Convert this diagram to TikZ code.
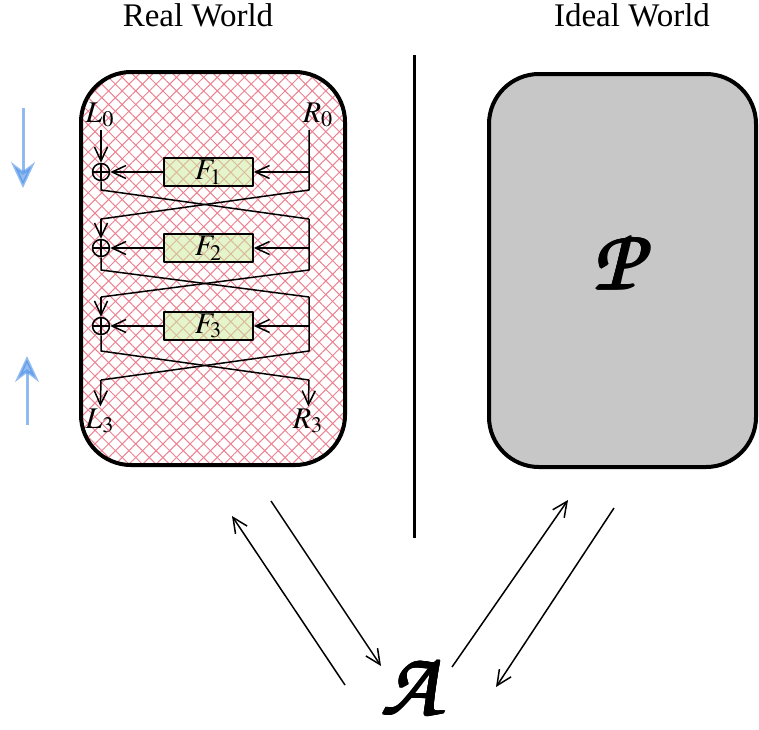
\documentclass[tikz,border=0pt]{standalone}
\usepackage{mathptmx}
\usepackage{fontspec}
\setmainfont{Liberation Serif}
\usepackage{tikz}
\usetikzlibrary{arrows.meta}
\usetikzlibrary{patterns.meta}
\usetikzlibrary{calc}

\definecolor{hatch}{RGB}{236,130,145}
\definecolor{boxgreen}{RGB}{205,235,160}
\definecolor{worldgray}{RGB}{199,199,199}
\definecolor{arrowblue}{RGB}{70,140,230}
\newcommand\chancery{\usefont{OT1}{pzc}{mb}{it}}

\begin{document}
\begin{tikzpicture}[x=0.5pt,y=-0.5pt,line join=round,
  flow/.style={line width=0.75pt},
  tip/.style={-{Straight Barb[length=7pt,width=6.5pt]}},
  xor/.style={circle,draw,line width=0.75pt,minimum size=8.5pt,inner sep=0pt,
    path picture={\draw[line width=0.75pt] (path picture bounding box.north) -- (path picture bounding box.south)
      (path picture bounding box.west) -- (path picture bounding box.east);}},
  fbox/.style={draw,line width=0.75pt,fill=boxgreen,fill opacity=0.55,text opacity=1,
    minimum width=44.5pt,minimum height=13pt,inner sep=0pt},
  label/.style={font=\fontsize{15}{17}\selectfont,inner sep=1pt},
  world/.style={font=\fontsize{16.5}{19}\selectfont},
  cal/.style={font=\chancery\fontsize{#1}{#1}\selectfont,inner sep=0pt},
  adv/.style={line width=0.75pt,-{Straight Barb[length=7.5pt,width=7pt]}},
  sweep/.style={line width=1.5pt,draw=arrowblue,fill=arrowblue,opacity=0.58,
    -{Stealth[length=13pt,width=12pt,inset=4.5pt]}}]
\useasboundingbox (0,0) rectangle (759,729);

% the two worlds
\draw[line width=2pt,rounded corners=25pt,
  preaction={pattern={Lines[angle=45,distance=4.8pt,line width=.5pt]},pattern color=hatch},
  preaction={pattern={Lines[angle=-45,distance=4.8pt,line width=.5pt]},pattern color=hatch}]
  (81,72) rectangle (345,465);
\draw[line width=2pt,rounded corners=25pt,fill=worldgray] (489,74) rectangle (756,467);
\draw[line width=1.5pt] (414,55) -- (414,538);
\node[world] (real) at (198,15) {Real World};
\node[world] (ideal) at (632,15) {Ideal World};
% heavy script letters, stroked a few times
\foreach \a [count=\k] in {0,45,...,315}
{\node[cal=44] (P-\k) at ($(617,262)+(\a:0.8)$) {P};
\node[cal=46] (A-\k) at ($(410,686)+(\a:0.8)$) {A};}

% three rounds of the feistel network
\node[label] (L-0) at (100,115) {$L_0$};
\node[label] (R-0) at (318,115) {$R_0$};
\coordinate (l-0) at (101,130);
\coordinate (r-0) at (309,130);
\foreach \Y/\S/\E [count=\i] in {172/190/219,248/270/297,326/351/380}
{\pgfmathtruncatemacro\j{\i-1}
\node[xor] (x-\i) at (101,\Y) {};
\node[fbox,label] (F-\i) at (208.5,\Y) {$F_\i$};
\draw[flow,tip] (l-\j) -- (x-\i);
\draw[flow] (r-\j) -- (309,\S) -- (101,\E) coordinate (l-\i);
\draw[flow] (x-\i) -- (101,\S) -- (309,\E) coordinate (r-\i);
\draw[flow,tip] (309,\Y) -- (F-\i);
\draw[flow,tip] (F-\i) -- (x-\i);
}
\node[label] (L-3) at (100,421) {$L_3$};
\node[label] (R-3) at (308,421) {$R_3$};
\draw[flow,tip] (l-3) -- (L-3);
\draw[flow,tip] (r-3) -- (R-3);

% direction of evaluation
\coordinate (down-a) at (23,108);
\coordinate (down-b) at (23,188);
\coordinate (up-a) at (27,425);
\coordinate (up-b) at (27,356);
\draw[sweep] (down-a) -- (down-b);
\draw[sweep] (up-a) -- (up-b);

% the adversary talks to both worlds
\coordinate (q-real) at (345,685);
\coordinate (a-real) at (232,516);
\coordinate (o-real) at (271,501);
\coordinate (i-real) at (381,666);
\coordinate (q-ideal) at (452,667);
\coordinate (a-ideal) at (568,500);
\coordinate (o-ideal) at (614,508);
\coordinate (i-ideal) at (496,687);
\draw[adv] (q-real) -- (a-real);
\draw[adv] (o-real) -- (i-real);
\draw[adv] (q-ideal) -- (a-ideal);
\draw[adv] (o-ideal) -- (i-ideal);
\end{tikzpicture}
\end{document}
